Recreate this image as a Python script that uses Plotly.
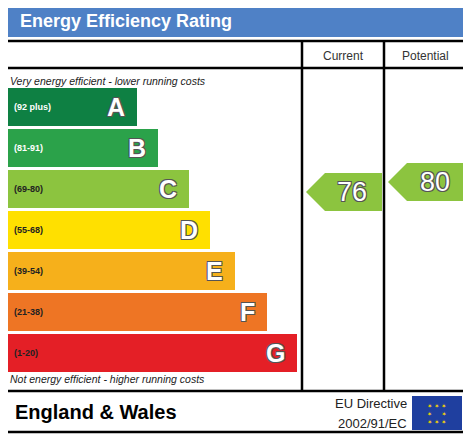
import plotly.graph_objects as go

bands = ['A', 'B', 'C', 'D', 'E', 'F', 'G']
ranges = ['(92 plus)', '(81-91)', '(69-80)', '(55-68)', '(39-54)', '(21-38)', '(1-20)']
bar_ends = [137, 158, 189, 210, 235, 267, 297]
colors = ['#0e8043', '#2ba24a', '#8cc43f', '#ffe000', '#f6b01b', '#ee7524', '#e41f26']
range_font = ['white', 'white', '#222', '#222', '#222', '#222', '#222']
current = 76
potential = 80

W, H = 471, 437
OFF = 8  # browser body margin
fig = go.Figure()

ys = [107 + 41 * i for i in range(len(bands))]
fig.add_trace(go.Bar(
    orientation='h', y=ys, x=[e - 5 for e in bar_ends], base=5, width=38,
    marker=dict(color=colors, line=dict(width=0)), hoverinfo='skip'))

outline = '1px 1px 0 #555, -1px -1px 0 #555, 1px -1px 0 #555, -1px 1px 0 #555'
for y, r, e, fc, b in zip(ys, ranges, bar_ends, range_font, bands):
    fig.add_annotation(x=12, y=y, text='<b>%s</b>' % r, showarrow=False, xanchor='left',
                       font=dict(size=9, color=fc, family='Arial'))
    fig.add_annotation(x=e - 10, y=y, text='<b>%s</b>' % b, showarrow=False, xanchor='right',
                       font=dict(size=25, color='white', family='Arial', shadow=outline))


def band_of(v):
    lows = [92, 81, 69, 55, 39, 21, 1]
    for i, lo in enumerate(lows):
        if v >= lo:
            return i
    return 6


def arrow(x0, x1, yc, val):
    h = 19
    xs = [x0, x0 + 19, x1, x1, x0 + 19, x0]
    yy = [yc, yc - h, yc - h, yc + h, yc + h, yc]
    fig.add_trace(go.Scatter(x=xs, y=yy, fill='toself', mode='lines', line=dict(width=0),
                             fillcolor=colors[band_of(val)], hoverinfo='skip'))
    fig.add_annotation(x=(x0 + x1) / 2 + 8, y=yc, text=str(val), showarrow=False,
                       font=dict(size=27, color='white', family='Arial', shadow=outline))


arrow(306, 382, ys[band_of(current)] + 3, current)
arrow(388, 465, ys[band_of(potential)] - 7, potential)

shapes = [
    dict(type='rect', x0=4, x1=468, y0=4, y1=37, fillcolor='#4f81c6', line=dict(width=0)),
    dict(type='rect', x0=4, x1=468, y0=41, y1=432, line=dict(color='black', width=2.5)),
    dict(type='line', x0=4, x1=468, y0=68, y1=68, line=dict(color='black', width=2.5)),
    dict(type='line', x0=4, x1=468, y0=391, y1=391, line=dict(color='black', width=2.5)),
    dict(type='line', x0=302, x1=302, y0=41, y1=391, line=dict(color='black', width=2.5)),
    dict(type='line', x0=384, x1=384, y0=41, y1=391, line=dict(color='black', width=2.5)),
    dict(type='rect', x0=412, x1=462, y0=396, y1=430, fillcolor='#1f3f9f', line=dict(width=0)),
]
fig.update_layout(shapes=shapes)

texts = [
    (18, 21, '<b>Energy Efficiency Rating</b>', 18, 'white', 'left'),
    (343, 56, 'Current', 12, '#333', 'center'),
    (425, 56, 'Potential', 12, '#333', 'center'),
    (8, 81, '<i>Very energy efficient - lower running costs</i>', 10.5, '#222', 'left'),
    (8, 379, '<i>Not energy efficient - higher running costs</i>', 10.5, '#222', 'left'),
    (13, 412, '<b>England &amp; Wales</b>', 20, 'black', 'left'),
    (409, 403, 'EU Directive', 13, '#222', 'right'),
    (409, 423, '2002/91/EC', 13, '#222', 'right'),
]
for x, y, t, s, c, a in texts:
    fig.add_annotation(x=x, y=y, text=t, showarrow=False, xanchor=a,
                       font=dict(size=s, color=c, family='Arial'))

fig.add_annotation(x=437, y=413, text='✶ ✶ ✶<br>✶     ✶<br>✶ ✶ ✶', showarrow=False,
                   font=dict(size=6, color='#ffdd00', family='DejaVu Sans'))

fig.update_layout(
    width=W, height=H, margin=dict(l=0, r=0, t=0, b=0), showlegend=False,
    plot_bgcolor='white', paper_bgcolor='white', bargap=0,
    xaxis=dict(range=[OFF, W + OFF], visible=False, fixedrange=True),
    yaxis=dict(range=[H + OFF, OFF], visible=False, fixedrange=True),
)
fig.write_html('out.html')
